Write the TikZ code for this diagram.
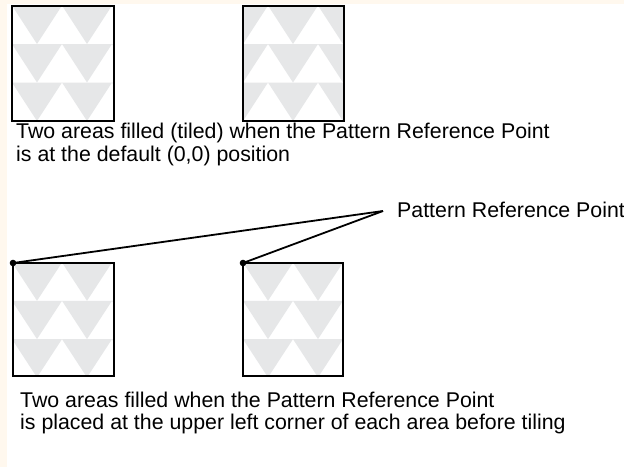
\documentclass[tikz,border=0pt]{standalone}
\usepackage{fontspec}
\setmainfont{Liberation Sans}
\definecolor{cream}{HTML}{FFF8EE}
\definecolor{patgrey}{HTML}{E6E7E8}
\newcommand\patfill[6]{%
  \begin{scope}
    \clip (#1,#2) rectangle (#3,#4);
    \foreach \cx in {#5} {
      \foreach \r in {0,1,2,3} {
        \fill[patgrey] ({\cx-25},{#2-0.5+\r*#6}) -- ({\cx+25},{#2-0.5+\r*#6}) -- (\cx,{#2-0.5+(\r+1)*#6}) -- cycle;
      }
    }
  \end{scope}}
\begin{document}
\begin{tikzpicture}[x=1pt,y=-1pt,
  areabox/.style={draw=black, line width=2.2pt, inner sep=0pt, outer sep=0pt, anchor=north west},
  caption/.style={font=\fontsize{21.33}{23}\selectfont, inner sep=0pt, anchor=base west},
  connector/.style={line width=1.8pt, black},
  refdot/.style={fill=black}]
\useasboundingbox (0,0) rectangle (624,467);
\fill[white] (0,0) rectangle (624,467);
\fill[cream] (0,0) rectangle (7,467);
\fill[cream] (0,0) rectangle (624,4);
% patterns
\patfill{12}{6}{114}{121}{-13,37,87,137}{38.5}
\patfill{243}{6}{344}{121}{193,243,293,343,393}{38.5}
\patfill{13}{263}{114}{376}{-13,37,87,137}{38.3}
\patfill{243}{263}{343}{376}{218,268,318,368}{38.3}
% boxes
\node[areabox, minimum width=102pt, minimum height=115pt] (box1) at (12,6) {};
\node[areabox, minimum width=101pt, minimum height=115pt] (box2) at (243,6) {};
\node[areabox, minimum width=101pt, minimum height=113pt] (box3) at (13,263) {};
\node[areabox, minimum width=100pt, minimum height=113pt] (box4) at (243,263) {};
% captions
\node[caption] (capA1) at (16,138) {Two areas filled (tiled) when the Pattern Reference Point};
\node[caption] (capA2) at (16,161) {is at the default (0,0) position};
\node[caption] (capB1) at (20,407) {Two areas filled when the Pattern Reference Point};
\node[caption] (capB2) at (20,429) {is placed at the upper left corner of each area before tiling};
\node[caption] (prptext) at (397,217) {Pattern Reference Point};
\coordinate (prp) at (383,211);
% connectors
\draw[connector] (prp) -- (box3.north west);
\draw[connector] (prp) -- (box4.north west);
\fill[refdot] (box3.north west) circle[radius=3.3pt];
\fill[refdot] (box4.north west) circle[radius=3.3pt];
\end{tikzpicture}
\end{document}
